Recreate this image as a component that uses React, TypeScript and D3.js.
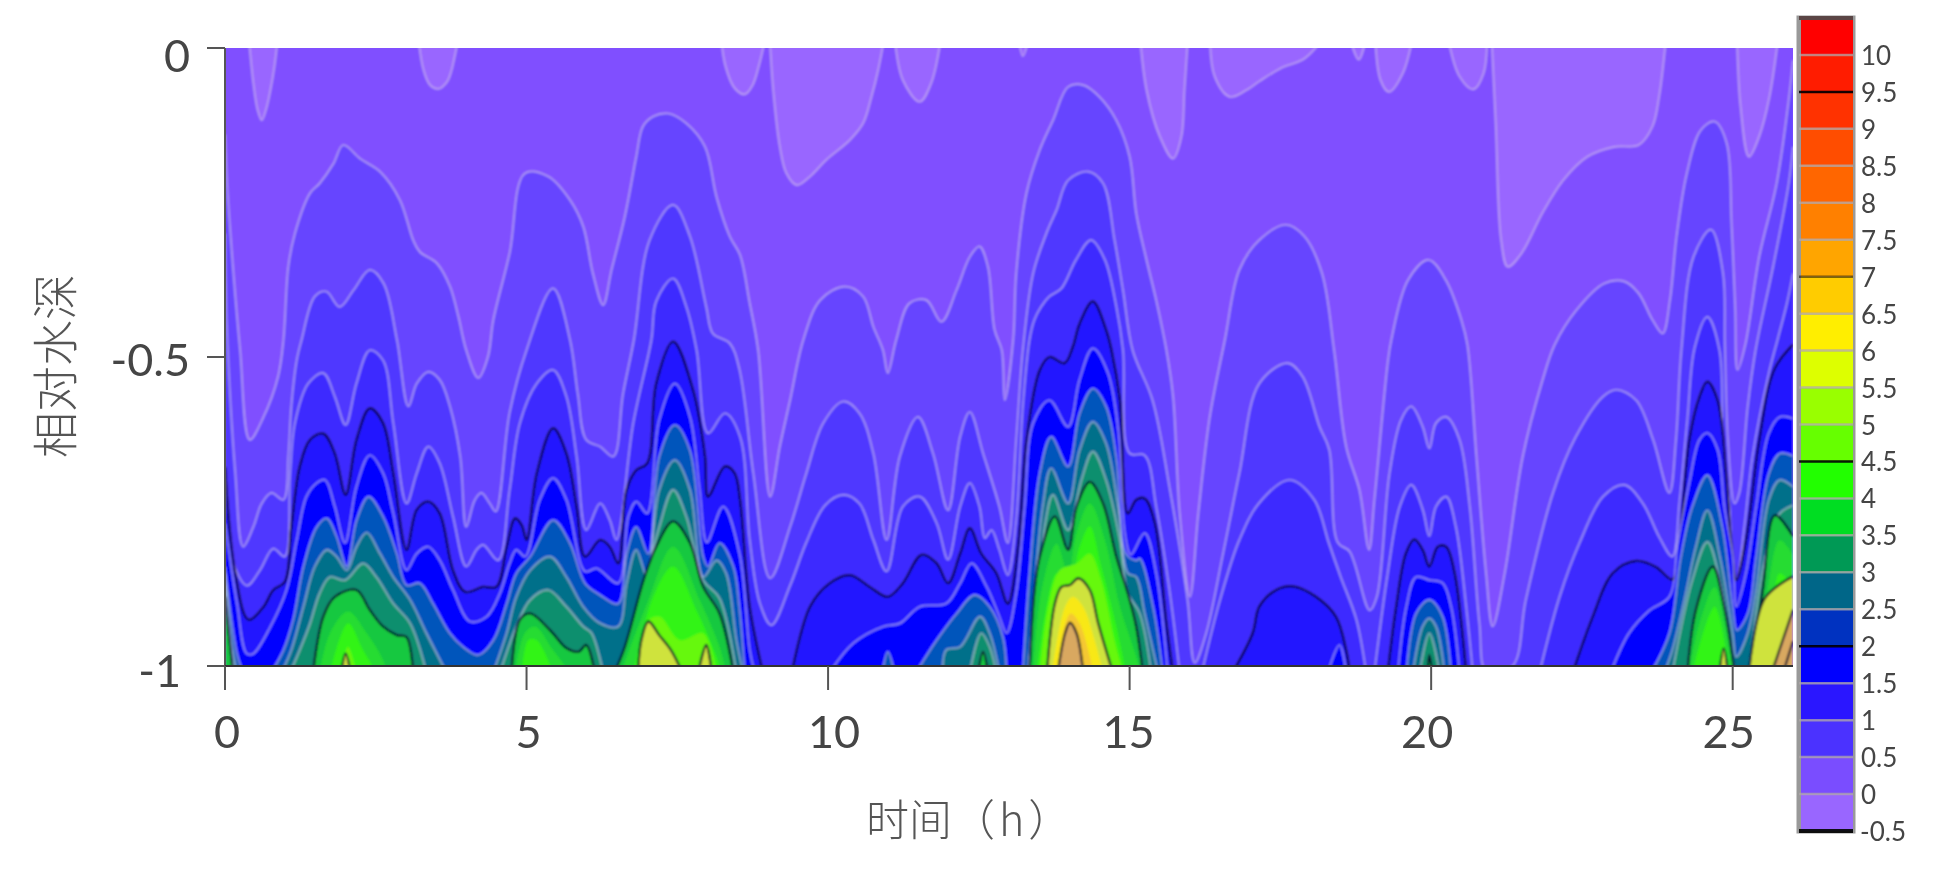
import { scaleLinear, area, line, curveCatmullRom } from "d3";

type Pt = [number, number];

const WIDTH = 1946;
const HEIGHT = 869;

const xTicks = [0, 5, 10, 15, 20, 25];
const yTicks = [0, -0.5, -1];
const legendLevels = [-0.5, 0, 0.5, 1, 1.5, 2, 2.5, 3, 3.5, 4, 4.5, 5, 5.5, 6, 6.5, 7, 7.5, 8, 8.5, 9, 9.5, 10];
const legendDark = [-0.5, 2, 4.5, 7, 9.5];
const legendColors = [
  "#9966ff", "#7a4dff", "#4c33ff", "#2a14ff", "#0000ff", "#0033c0", "#006688", "#009955",
  "#00dd22", "#22ff00", "#66ff00", "#99ff00", "#ddff00", "#ffee00", "#ffcc00", "#ffa500",
  "#ff8000", "#ff6600", "#ff4d00", "#ff3300", "#ff1a00", "#ff0000",
];

// pale tongues hanging from the surface [hour, depth]
const tongues: Pt[][] = [
  [[0.39, 0.02], [0.47, -0.057], [0.54, -0.1], [0.61, -0.117], [0.68, -0.1], [0.75, -0.07], [0.82, -0.03], [0.88, 0.02]],
  [[3.2, 0.02], [3.29, -0.035], [3.4, -0.06], [3.54, -0.066], [3.68, -0.055], [3.76, -0.035], [3.88, 0.02]],
  [[8.22, 0.02], [8.3, -0.03], [8.45, -0.065], [8.62, -0.075], [8.75, -0.06], [8.85, -0.03], [8.97, 0.02]],
  [[9.03, 0.02], [9.09, -0.068], [9.2, -0.16], [9.31, -0.203], [9.48, -0.222], [9.7, -0.208], [9.97, -0.181], [10.36, -0.149], [10.58, -0.122], [10.72, -0.079], [10.83, -0.036], [10.94, 0.02]],
  [[11.1, 0.02], [11.24, -0.052], [11.52, -0.087], [11.71, -0.057], [11.88, 0.02]],
  [[13.15, 0.02], [13.23, -0.013], [13.34, 0.02]],
  [[15.17, 0.02], [15.28, -0.068], [15.5, -0.143], [15.72, -0.179], [15.86, -0.143], [15.91, -0.068], [15.97, 0.02]],
  [[16.33, 0.02], [16.41, -0.046], [16.66, -0.079], [16.94, -0.068], [17.15, -0.054], [17.5, -0.033], [17.9, -0.017], [18.25, 0.02]],
  [[18.64, 0.02], [18.8, -0.019], [18.93, 0.02]],
  [[19.07, 0.02], [19.16, -0.052], [19.3, -0.071], [19.53, -0.041], [19.7, 0.02]],
  [[20.27, 0.02], [20.47, -0.046], [20.7, -0.067], [20.87, -0.041], [20.93, 0.02]],
  [[21.0, 0.02], [21.07, -0.122], [21.16, -0.311], [21.27, -0.354], [21.5, -0.332], [21.84, -0.268], [22.19, -0.214], [22.59, -0.176], [23.04, -0.16], [23.44, -0.157], [23.67, -0.127], [23.78, -0.079], [23.9, 0.02]],
  [[25.07, 0.02], [25.13, -0.095], [25.27, -0.176], [25.44, -0.143], [25.61, -0.079], [25.76, 0.02]],
];

const contour1: Pt[][] = [[
  [0, -0.14], [0.04, -0.23], [0.14, -0.365], [0.25, -0.489], [0.41, -0.634], [0.64, -0.597], [0.88, -0.532], [0.97, -0.4725], [1.05, -0.354], [1.16, -0.3], [1.41, -0.235], [1.57, -0.219], [1.8, -0.187], [1.96, -0.157], [2.24, -0.179], [2.57, -0.2], [2.9, -0.246], [3.12, -0.311], [3.23, -0.33], [3.51, -0.348], [3.73, -0.386], [3.87, -0.435], [4.0, -0.489], [4.2, -0.534], [4.36, -0.5], [4.45, -0.44], [4.72, -0.332], [4.97, -0.203], [5.36, -0.208], [5.72, -0.246], [5.94, -0.289], [6.1, -0.365], [6.27, -0.416], [6.41, -0.359], [6.63, -0.273], [6.82, -0.176], [6.93, -0.127], [7.1, -0.111], [7.35, -0.106], [7.65, -0.122], [7.96, -0.16], [8.15, -0.241], [8.37, -0.305], [8.54, -0.335], [8.7, -0.413], [8.84, -0.489], [9.04, -0.726], [9.2, -0.645], [9.37, -0.57], [9.59, -0.4725], [9.87, -0.408], [10.28, -0.386], [10.58, -0.402], [10.75, -0.451], [10.91, -0.489], [10.99, -0.526], [11.13, -0.4725], [11.35, -0.413], [11.63, -0.408], [11.88, -0.443], [12.13, -0.392], [12.35, -0.338], [12.51, -0.321], [12.65, -0.354], [12.76, -0.456], [12.88, -0.489], [12.93, -0.57], [13.07, -0.4725], [13.12, -0.365], [13.29, -0.235], [13.51, -0.165], [13.73, -0.117], [13.98, -0.063], [14.23, -0.06], [14.5, -0.079], [14.78, -0.117], [15.0, -0.176], [15.11, -0.268], [15.28, -0.343], [15.44, -0.408], [15.61, -0.489], [15.72, -0.564], [15.83, -0.753], [16.0, -0.888], [16.14, -0.753], [16.33, -0.597], [16.58, -0.4725], [16.82, -0.359], [17.15, -0.311], [17.59, -0.286], [17.9, -0.305], [18.19, -0.365], [18.39, -0.489], [18.59, -0.645], [18.81, -0.715], [18.97, -0.812], [19.06, -0.731], [19.28, -0.51], [19.34, -0.4725], [19.62, -0.375], [19.96, -0.343], [20.24, -0.375], [20.5, -0.44], [20.6, -0.48], [20.75, -0.661], [20.91, -0.85], [21.02, -0.936], [21.22, -0.85], [21.52, -0.661], [21.85, -0.537], [22.05, -0.48], [22.41, -0.424], [22.87, -0.381], [23.21, -0.378], [23.44, -0.397], [23.67, -0.44], [23.84, -0.462], [23.96, -0.408], [24.07, -0.305], [24.24, -0.203], [24.47, -0.133], [24.7, -0.119], [24.9, -0.154], [24.98, -0.284], [25.04, -0.419], [25.08, -0.521], [25.21, -0.48], [25.44, -0.338], [25.73, -0.219], [25.93, -0.084], [26, -0.02],
]];

const contour2: Pt[][] = [[
  [0, -0.3], [0.03, -0.45], [0.17, -0.688], [0.3, -0.807], [0.47, -0.775], [0.61, -0.737], [0.77, -0.72], [0.97, -0.731], [1.05, -0.661], [1.1, -0.58], [1.19, -0.505], [1.27, -0.4725], [1.49, -0.402], [1.68, -0.394], [1.9, -0.419], [2.13, -0.392], [2.4, -0.359], [2.63, -0.381], [2.85, -0.472], [3.04, -0.58], [3.18, -0.543], [3.37, -0.524], [3.56, -0.537], [3.73, -0.58], [3.9, -0.661], [4.0, -0.775], [4.14, -0.732], [4.25, -0.72], [4.39, -0.737], [4.49, -0.75], [4.72, -0.59], [5.0, -0.489], [5.44, -0.389], [5.72, -0.472], [5.85, -0.56], [5.99, -0.634], [6.22, -0.645], [6.44, -0.661], [6.6, -0.56], [6.78, -0.4725], [7.04, -0.311], [7.43, -0.254], [7.71, -0.305], [7.98, -0.419], [8.09, -0.462], [8.37, -0.478], [8.53, -0.52], [8.76, -0.688], [9.04, -0.858], [9.37, -0.775], [9.64, -0.688], [9.92, -0.607], [10.25, -0.572], [10.52, -0.591], [10.75, -0.656], [10.97, -0.796], [11.19, -0.661], [11.49, -0.597], [11.74, -0.656], [11.99, -0.748], [12.19, -0.629], [12.35, -0.589], [12.57, -0.656], [12.84, -0.742], [12.98, -0.801], [13.12, -0.634], [13.23, -0.489], [13.4, -0.365], [13.62, -0.3], [13.79, -0.262], [13.98, -0.214], [14.31, -0.2], [14.56, -0.219], [14.75, -0.311], [14.89, -0.392], [15.05, -0.489], [15.38, -0.57], [15.66, -0.71], [15.96, -0.893], [16.08, -0.995], [16.27, -0.947], [16.54, -0.823], [16.82, -0.688], [17.15, -0.543], [17.62, -0.51], [17.87, -0.532], [18.15, -0.613], [18.31, -0.65], [18.45, -0.8], [18.65, -0.815], [18.98, -0.91], [19.1, -0.888], [19.31, -0.688], [19.5, -0.602], [19.67, -0.58], [19.86, -0.613], [19.97, -0.648], [20.08, -0.607], [20.25, -0.597], [20.47, -0.634], [20.64, -0.742], [20.8, -0.931], [20.92, -1.01], [21.35, -1.0], [21.57, -0.893], [22.02, -0.72], [22.4, -0.629], [22.85, -0.564], [23.07, -0.553], [23.4, -0.57], [23.68, -0.634], [23.95, -0.72], [24.06, -0.634], [24.15, -0.489], [24.35, -0.338], [24.64, -0.294], [24.84, -0.365], [24.87, -0.48], [24.92, -0.634], [25.03, -0.737], [25.11, -0.72], [25.25, -0.58], [25.38, -0.489], [25.67, -0.354], [25.93, -0.219], [26, -0.16],
]];

const contour3: Pt[][] = [
  [[0, -0.68], [0.06, -0.807], [0.36, -0.87], [0.58, -0.845], [0.8, -0.81], [0.99, -0.823], [1.08, -0.688], [1.16, -0.607], [1.38, -0.543], [1.63, -0.526], [1.82, -0.564], [2.0, -0.61], [2.18, -0.543], [2.4, -0.489], [2.62, -0.505], [2.79, -0.607], [3.01, -0.737], [3.18, -0.688], [3.37, -0.645], [3.56, -0.672], [3.78, -0.758], [4.0, -0.839], [4.17, -0.812], [4.28, -0.804], [4.53, -0.829], [4.72, -0.715], [4.89, -0.607], [5.17, -0.543], [5.44, -0.521], [5.66, -0.564], [5.83, -0.661], [5.99, -0.78], [6.22, -0.737], [6.38, -0.764], [6.49, -0.796], [6.77, -0.607], [7.07, -0.4725], [7.15, -0.41], [7.43, -0.373], [7.65, -0.419], [7.82, -0.489], [8.01, -0.6235], [8.29, -0.591], [8.54, -0.629], [8.7, -0.796], [8.87, -0.899], [9.06, -0.934], [9.37, -0.87], [9.64, -0.8], [9.95, -0.74], [10.25, -0.723], [10.52, -0.737], [10.75, -0.796], [10.97, -0.847], [11.24, -0.742], [11.52, -0.726], [11.8, -0.769], [11.99, -0.828], [12.19, -0.742], [12.35, -0.704], [12.51, -0.742], [12.6, -0.793], [12.71, -0.78], [12.84, -0.812], [12.98, -0.853], [13.12, -0.764], [13.23, -0.58], [13.34, -0.4725], [13.42, -0.44], [13.53, -0.419], [13.67, -0.402], [13.87, -0.389], [14.11, -0.343], [14.36, -0.311], [14.59, -0.343], [14.78, -0.419], [14.89, -0.489], [15.0, -0.656], [15.25, -0.659], [15.44, -0.742], [15.66, -0.877], [15.83, -1.01]],
  [[16.2, -1.01], [16.5, -0.893], [16.82, -0.796], [17.15, -0.736], [17.65, -0.699], [18.06, -0.731], [18.3, -0.8], [18.5, -0.856], [18.76, -0.925], [18.92, -1.01]],
  [[19.06, -1.01], [19.28, -0.85], [19.48, -0.742], [19.67, -0.707], [19.86, -0.747], [19.97, -0.79], [20.08, -0.742], [20.25, -0.726], [20.41, -0.775], [20.58, -0.904], [20.69, -1.01]],
  [[21.8, -1.01], [22.13, -0.888], [22.46, -0.801], [22.85, -0.726], [23.2, -0.707], [23.51, -0.737], [23.78, -0.791], [24.0, -0.823], [24.12, -0.733], [24.25, -0.6], [24.37, -0.485], [24.58, -0.435], [24.78, -0.489], [24.84, -0.634], [24.95, -0.742], [25.03, -0.89], [25.2, -0.77], [25.33, -0.661], [25.6, -0.526], [25.75, -0.47], [25.9, -0.413], [26, -0.365]],
];

const contour4: Pt[][] = [
  [[0, -0.678], [0.17, -0.85], [0.39, -0.925], [0.64, -0.904], [0.8, -0.877], [0.99, -0.864], [1.1, -0.775], [1.24, -0.677], [1.41, -0.634], [1.63, -0.624], [1.82, -0.656], [2.0, -0.723], [2.18, -0.634], [2.4, -0.583], [2.62, -0.607], [2.79, -0.688], [3.01, -0.812], [3.18, -0.747], [3.37, -0.734], [3.56, -0.753], [3.78, -0.845], [3.98, -0.88], [4.28, -0.872], [4.5, -0.872], [4.67, -0.807], [4.81, -0.761], [4.92, -0.772], [5.0, -0.796], [5.17, -0.688], [5.44, -0.615], [5.66, -0.656], [5.83, -0.742], [5.97, -0.823], [6.22, -0.796], [6.38, -0.807], [6.52, -0.834], [6.66, -0.715], [6.82, -0.683], [7.0, -0.672], [7.15, -0.543], [7.43, -0.475], [7.76, -0.553], [7.96, -0.661], [8.01, -0.726], [8.29, -0.677], [8.45, -0.688], [8.54, -0.731], [8.7, -0.904], [8.92, -1.01]],
  [[9.4, -1.01], [9.7, -0.904], [10.03, -0.866], [10.36, -0.853], [10.69, -0.872], [10.99, -0.888], [11.24, -0.866], [11.55, -0.82], [11.8, -0.834], [11.99, -0.866], [12.19, -0.818], [12.35, -0.777], [12.54, -0.818], [12.79, -0.85], [12.98, -0.899], [13.15, -0.807], [13.29, -0.634], [13.51, -0.521], [13.67, -0.5], [13.92, -0.51], [14.06, -0.483], [14.17, -0.446], [14.39, -0.41], [14.61, -0.456], [14.7, -0.489], [14.84, -0.57], [14.97, -0.753], [15.11, -0.731], [15.25, -0.729], [15.42, -0.769], [15.61, -0.931], [15.72, -1.01]],
  [[16.71, -1.01], [17.04, -0.947], [17.15, -0.904], [17.43, -0.877], [17.71, -0.871], [18.09, -0.888], [18.42, -0.92], [18.59, -0.974], [18.65, -1.01]],
  [[19.28, -1.01], [19.42, -0.904], [19.58, -0.818], [19.72, -0.795], [19.86, -0.812], [19.97, -0.839], [20.11, -0.807], [20.25, -0.807], [20.39, -0.85], [20.53, -0.958], [20.58, -1.01]],
  [[22.35, -1.01], [22.68, -0.92], [23.01, -0.85], [23.4, -0.83], [23.73, -0.84], [24.0, -0.86], [24.12, -0.796], [24.28, -0.634], [24.45, -0.564], [24.58, -0.54], [24.75, -0.57], [24.89, -0.688], [24.97, -0.796], [25.06, -0.861], [25.22, -0.796], [25.44, -0.634], [25.69, -0.52], [26, -0.48]],
];

const contour5: Pt[][] = [
  [[0, -0.77], [0.2, -0.9], [0.36, -0.98], [0.47, -0.98], [0.75, -0.937], [1.02, -0.877], [1.19, -0.796], [1.35, -0.726], [1.52, -0.704], [1.66, -0.699], [1.82, -0.742], [1.99, -0.801], [2.18, -0.71], [2.4, -0.659], [2.62, -0.688], [2.79, -0.753], [3.01, -0.845], [3.18, -0.818], [3.37, -0.807], [3.56, -0.829], [3.78, -0.877], [4.06, -0.928], [4.34, -0.92], [4.56, -0.882], [4.72, -0.834], [4.83, -0.812], [4.98, -0.823], [5.22, -0.731], [5.44, -0.696], [5.66, -0.731], [5.97, -0.847], [6.16, -0.842], [6.52, -0.866], [6.69, -0.758], [6.82, -0.734], [7.0, -0.753], [7.2, -0.602], [7.46, -0.543], [7.71, -0.597], [7.87, -0.715], [7.99, -0.8], [8.26, -0.742], [8.53, -0.818], [8.7, -0.974], [8.78, -1.01]],
  [[10.03, -1.01], [10.42, -0.963], [10.92, -0.936], [11.19, -0.931], [11.52, -0.904], [11.96, -0.899], [12.19, -0.866], [12.38, -0.834], [12.63, -0.872], [12.82, -0.915], [12.96, -0.947], [13.12, -0.882], [13.26, -0.742], [13.4, -0.607], [13.67, -0.57], [13.98, -0.613], [14.17, -0.537], [14.39, -0.486], [14.64, -0.526], [14.81, -0.618], [14.92, -0.785], [15.02, -0.82], [15.25, -0.785], [15.44, -0.85], [15.63, -1.01]],
  [[18.29, -1.01], [18.48, -0.966], [18.59, -1.01]],
  [[19.45, -1.01], [19.59, -0.904], [19.75, -0.856], [19.97, -0.861], [20.19, -0.866], [20.33, -0.904], [20.47, -1.01]],
  [[22.98, -1.01], [23.28, -0.947], [23.62, -0.91], [23.95, -0.888], [24.09, -0.801], [24.28, -0.704], [24.45, -0.634], [24.58, -0.623], [24.75, -0.65], [24.86, -0.742], [25.0, -0.823], [25.06, -0.904], [25.22, -0.85], [25.39, -0.742], [25.6, -0.623], [25.78, -0.597], [26, -0.6]],
];

const contour6: Pt[][] = [
  [[0, -0.84], [0.2, -0.98], [0.3, -1.01]],
  [[0.77, -1.01], [0.97, -0.974], [1.13, -0.925], [1.3, -0.839], [1.52, -0.775], [1.69, -0.761], [1.85, -0.79], [2.02, -0.839], [2.18, -0.764], [2.38, -0.726], [2.62, -0.758], [2.85, -0.818], [3.01, -0.869], [3.23, -0.866], [3.45, -0.899], [3.73, -0.947], [3.95, -0.969], [4.2, -0.982], [4.45, -0.958], [4.67, -0.899], [4.83, -0.85], [5.06, -0.823], [5.44, -0.764], [5.72, -0.801], [5.97, -0.866], [6.22, -0.885], [6.52, -0.899], [6.66, -0.818], [6.82, -0.775], [7.02, -0.818], [7.2, -0.661], [7.46, -0.61], [7.71, -0.651], [7.93, -0.823], [8.01, -0.839], [8.2, -0.801], [8.43, -0.839], [8.53, -0.904], [8.62, -1.01]],
  [[10.9, -1.01], [10.99, -0.977], [11.1, -1.01]],
  [[11.46, -1.01], [11.8, -0.958], [12.13, -0.915], [12.43, -0.885], [12.68, -0.904], [12.9, -0.953], [12.96, -1.01]],
  [[13.23, -1.01], [13.34, -0.85], [13.51, -0.688], [13.7, -0.629], [13.98, -0.677], [14.17, -0.591], [14.39, -0.551], [14.61, -0.58], [14.78, -0.661], [14.94, -0.818], [15.11, -0.829], [15.17, -0.826], [15.39, -0.904], [15.55, -1.01]],
  [[19.59, -1.01], [19.75, -0.915], [19.97, -0.893], [20.19, -0.92], [20.33, -1.01]],
  [[23.65, -1.01], [23.95, -0.947], [24.14, -0.823], [24.33, -0.742], [24.58, -0.691], [24.83, -0.775], [25.0, -0.904], [25.07, -0.942], [25.25, -0.915], [25.39, -0.823], [25.6, -0.688], [25.78, -0.656], [26, -0.66]],
];

const contour7: Pt[][] = [
  [[0, -0.85], [0.12, -0.97], [0.2, -1.01]],
  [[0.94, -1.01], [1.1, -0.974], [1.3, -0.904], [1.49, -0.839], [1.69, -0.812], [1.85, -0.823], [2.02, -0.845], [2.18, -0.807], [2.35, -0.784], [2.57, -0.818], [2.79, -0.856], [3.07, -0.893], [3.34, -0.947], [3.67, -1.01]],
  [[4.45, -1.01], [4.67, -0.947], [4.83, -0.888], [5.06, -0.845], [5.39, -0.823], [5.66, -0.856], [5.94, -0.904], [6.22, -0.931], [6.52, -0.936], [6.66, -0.866], [6.82, -0.812], [7.0, -0.856], [7.2, -0.715], [7.46, -0.667], [7.71, -0.715], [7.93, -0.856], [8.15, -0.829], [8.31, -0.85], [8.48, -0.958], [8.59, -1.01]],
  [[11.9, -1.01], [11.96, -0.974], [12.19, -0.969], [12.52, -0.92], [12.68, -0.947], [12.84, -1.01]],
  [[13.31, -1.01], [13.4, -0.904], [13.56, -0.742], [13.7, -0.68], [13.98, -0.737], [14.17, -0.651], [14.39, -0.605], [14.61, -0.64], [14.81, -0.742], [14.97, -0.85], [15.11, -0.856], [15.25, -0.915], [15.47, -1.01]],
  [[19.7, -1.01], [19.86, -0.936], [19.97, -0.923], [20.08, -0.936], [20.22, -1.01]],
  [[23.87, -1.01], [24.0, -0.974], [24.2, -0.893], [24.39, -0.807], [24.58, -0.748], [24.8, -0.829], [25.0, -0.947], [25.06, -0.985], [25.25, -0.947], [25.39, -0.877], [25.6, -0.731], [25.78, -0.699], [26, -0.71]],
];

const contour8: Pt[][] = [
  [[0, -0.87], [0.08, -0.96], [0.16, -1.01]],
  [[1.08, -1.01], [1.24, -0.974], [1.41, -0.931], [1.57, -0.882], [1.74, -0.856], [1.99, -0.861], [2.29, -0.834], [2.51, -0.856], [2.79, -0.899], [3.07, -0.931], [3.34, -1.01]],
  [[4.56, -1.01], [4.83, -0.936], [5.06, -0.893], [5.36, -0.877], [5.66, -0.904], [5.94, -0.936], [6.08, -0.947], [6.27, -1.01]],
  [[6.52, -1.01], [6.72, -0.947], [7.0, -0.85], [7.2, -0.775], [7.43, -0.715], [7.65, -0.758], [7.93, -0.861], [8.2, -0.89], [8.48, -1.01]],
  [[12.35, -1.01], [12.54, -0.947], [12.68, -0.969], [12.79, -1.01]],
  [[13.4, -1.01], [13.46, -0.931], [13.6, -0.769], [13.73, -0.723], [13.98, -0.78], [14.2, -0.699], [14.39, -0.653], [14.61, -0.699], [14.84, -0.796], [14.97, -0.882], [15.17, -0.915], [15.36, -1.01]],
  [[19.81, -1.01], [19.97, -0.947], [20.14, -1.01]],
  [[24.0, -1.01], [24.33, -0.861], [24.58, -0.799], [24.8, -0.866], [25.03, -1.01]],
  [[25.27, -1.01], [25.44, -0.877], [25.6, -0.796], [25.78, -0.753], [26, -0.74]],
];

const contour9: Pt[][] = [
  [[0, -0.888], [0.13, -1.01]],
  [[1.46, -1.01], [1.63, -0.92], [1.82, -0.888], [2.18, -0.877], [2.4, -0.909], [2.62, -0.936], [2.85, -0.95], [3.01, -0.953], [3.12, -1.01]],
  [[4.75, -1.01], [4.89, -0.925], [5.06, -0.915], [5.39, -0.942], [5.66, -0.971], [5.86, -0.977], [5.99, -0.966], [6.13, -1.01]],
  [[6.46, -1.01], [6.63, -0.969], [6.94, -0.861], [7.15, -0.807], [7.43, -0.766], [7.71, -0.801], [7.93, -0.872], [8.2, -0.915], [8.43, -1.01]],
  [[12.49, -1.01], [12.57, -0.977], [12.65, -1.01]],
  [[13.34, -1.01], [13.42, -0.88], [13.51, -0.823], [13.76, -0.758], [13.98, -0.812], [14.12, -0.742], [14.34, -0.702], [14.56, -0.737], [14.78, -0.823], [14.97, -0.882], [15.11, -0.936], [15.22, -1.01]],
  [[19.94, -1.01], [19.97, -0.982], [20.02, -1.01]],
  [[24.25, -1.01], [24.39, -0.909], [24.67, -0.839], [24.86, -0.904], [25.03, -1.01]],
  [[25.33, -1.01], [25.5, -0.877], [25.7, -0.756], [26, -0.79]],
];

const contour10: Pt[][] = [
  [[1.57, -1.01], [1.74, -0.947], [2.04, -0.912], [2.35, -0.947], [2.62, -0.99], [2.68, -1.01]],
  [[4.81, -1.01], [4.97, -0.947], [5.14, -0.936], [5.44, -0.974], [5.72, -1.01]],
  [[6.57, -1.01], [7.0, -0.899], [7.43, -0.807], [7.87, -0.893], [8.2, -0.969], [8.31, -1.01]],
  [[13.4, -1.01], [13.54, -0.877], [13.79, -0.802], [13.98, -0.85], [14.12, -0.785], [14.34, -0.737], [14.59, -0.796], [14.84, -0.904], [15.11, -0.985], [15.17, -1.01]],
  [[24.28, -1.01], [24.45, -0.931], [24.7, -0.872], [24.86, -0.931], [25.0, -1.01]],
  [[25.42, -1.01], [25.58, -0.877], [25.78, -0.796], [26, -0.82]],
];

const contour11: Pt[][] = [
  [[1.74, -1.01], [2.04, -0.931], [2.29, -0.974], [2.51, -1.01]],
  [[4.92, -1.01], [5.03, -0.958], [5.17, -0.958], [5.44, -1.01]],
  [[6.77, -1.01], [7.1, -0.888], [7.43, -0.839], [7.82, -0.91], [8.15, -0.985], [8.23, -1.01]],
  [[13.46, -1.01], [13.6, -0.915], [13.79, -0.85], [13.98, -0.883], [14.17, -0.807], [14.34, -0.774], [14.53, -0.839], [14.78, -0.936], [14.94, -1.01]],
  [[24.33, -1.01], [24.7, -0.904], [24.94, -1.01]],
  [[25.5, -1.01], [25.66, -0.904], [25.78, -0.85], [26, -0.87]],
];

const contour12: Pt[][] = [
  [[1.93, -1.01], [2.04, -0.969], [2.18, -1.01]],
  [[6.82, -1.01], [7.02, -0.926], [7.21, -0.92], [7.54, -0.958], [7.93, -0.947], [8.15, -1.01]],
  [[13.51, -1.01], [13.65, -0.904], [13.84, -0.845], [14.12, -0.834], [14.34, -0.818], [14.53, -0.861], [14.75, -0.958], [14.89, -1.01]],
  [[25.58, -1.01], [25.78, -0.904], [26, -0.9]],
];

const contour13: Pt[][] = [
  [[1.93, -1.01], [2.0, -0.98], [2.08, -1.01]],
  [[6.85, -1.01], [6.9, -0.96], [7.02, -0.928], [7.2, -0.95], [7.4, -0.975], [7.58, -1.01]],
  [[7.85, -1.01], [7.98, -0.966], [8.07, -1.01]],
  [[13.63, -1.01], [13.76, -0.899], [13.87, -0.872], [14.01, -0.869], [14.15, -0.858], [14.34, -0.877], [14.48, -0.931], [14.72, -1.01]],
  [[24.78, -1.01], [24.85, -0.972], [24.92, -1.01]],
  [[25.27, -1.01], [25.53, -0.891], [26, -0.855]],
];

const contour14: Pt[][] = [
  [[13.71, -1.01], [13.93, -0.904], [14.06, -0.888], [14.23, -0.904], [14.42, -0.958], [14.56, -1.01]],
];

const contour15: Pt[][] = [
  [[13.79, -1.01], [13.95, -0.926], [14.03, -0.915], [14.17, -0.931], [14.34, -0.985], [14.39, -1.01]],
];

const contour16: Pt[][] = [
  [[13.81, -1.01], [13.93, -0.947], [14.01, -0.93], [14.12, -0.947], [14.23, -1.01]],
  [[25.65, -1.01], [26, -0.909]],
  [[25.84, -1.01], [26, -0.96]],
];

const contours = [
  contour1, contour2, contour3, contour4, contour5, contour6, contour7, contour8,
  contour9, contour10, contour11, contour12, contour13, contour14, contour15, contour16,
];
const bandFills = [
  "#6644ff", "#5038ff", "#3d2bff", "#2016ff", "#0000ff", "#0055bb", "#00708a", "#0f8f6e",
  "#14c840", "#28dc30", "#30f418", "#66f810", "#cfe33c", "#f8e818", "#f4c830", "#d9a860",
];
// which contours are drawn black
const darkContours = [3, 8, 12, 15];
const noLine = [9, 10, 11, 13, 14];

const X0 = 225;
const X1 = 1793;
const Y0 = 48;
const Y1 = 666;

export default function App() {
  const x = scaleLinear().domain([0, 26]).range([X0, X1]);
  const y = scaleLinear().domain([0, -1]).range([Y0, Y1]);
  const legendY = scaleLinear().domain([-0.5, 10.5]).range([831, 18]);

  const smooth = curveCatmullRom.alpha(0.5);
  const bottomArea = area<Pt>()
    .x((d) => x(d[0]))
    .y0(y(-1.05))
    .y1((d) => y(d[1]))
    .curve(smooth);
  const topArea = area<Pt>()
    .x((d) => x(d[0]))
    .y0(y(0.05))
    .y1((d) => y(d[1]))
    .curve(smooth);
  const contourLine = line<Pt>()
    .x((d) => x(d[0]))
    .y((d) => y(d[1]))
    .curve(smooth);

  const tickFont = "Lato, 'Open Sans', sans-serif";
  const cjkFont = "'Noto Sans CJK SC', sans-serif";

  return (
    <svg
      width={WIDTH}
      height={HEIGHT}
      style={{ position: "absolute", left: 0, top: 0, background: "#fff" }}
    >
      <defs>
        <clipPath id="plotClip">
          <rect x={X0} y={Y0} width={X1 - X0} height={Y1 - Y0} />
        </clipPath>
        <filter id="soft" x="-2%" y="-2%" width="104%" height="104%">
          <feGaussianBlur stdDeviation="0.8" />
        </filter>
        <filter id="softText" x="-10%" y="-10%" width="120%" height="120%">
          <feGaussianBlur stdDeviation="0.5" />
        </filter>
      </defs>

      {/* contour field */}
      <g clipPath="url(#plotClip)">
        <g filter="url(#soft)">
          <rect x={X0 - 4} y={Y0 - 4} width={X1 - X0 + 8} height={Y1 - Y0 + 8} fill="#8050ff" />
          {tongues.map((t, i) => (
            <path key={i} d={topArea(t) ?? ""} fill="#9966ff" />
          ))}
          {tongues.map((t, i) => (
            <path key={i} d={contourLine(t) ?? ""} fill="none" stroke="#d8c8e8" strokeOpacity={0.6} strokeWidth={1.7} />
          ))}
          {contours.map((segments, level) => (
            <g key={level}>
              {segments.map((s, i) => (
                <path key={i} d={bottomArea(s) ?? ""} fill={bandFills[level]} />
              ))}
              {!noLine.includes(level) &&
                segments.map((s, i) => (
                  <path
                    key={i}
                    d={contourLine(s) ?? ""}
                    fill="none"
                    stroke={darkContours.includes(level) ? "#05052a" : "#d8d0e8"}
                    strokeOpacity={darkContours.includes(level) ? 0.9 : 0.6}
                    strokeWidth={darkContours.includes(level) ? 2.3 : 1.7}
                  />
                ))}
            </g>
          ))}
        </g>
      </g>

      {/* axes */}
      <g stroke="#555" strokeWidth={2}>
        <line x1={X0} x2={X0} y1={Y0} y2={690} />
        <line x1={207} x2={X1} y1={Y1} y2={Y1} stroke="#333" />
        {yTicks.map((v) => (
          <line key={v} x1={207} x2={X0} y1={y(v)} y2={y(v)} />
        ))}
        {xTicks.map((v) => (
          <line key={v} x1={x(v)} x2={x(v)} y1={Y1} y2={690} />
        ))}
      </g>
      <g fontFamily={tickFont} fontSize={45} fill="#444" filter="url(#softText)">
        {xTicks.map((v) => (
          <text key={v} x={x(v) + (v < 10 ? 2 : v === 10 ? 6 : v === 15 ? -1 : -4)} y={748} textAnchor="middle">
            {v}
          </text>
        ))}
        {yTicks.map((v) => (
          <text key={v} x={v === -1 ? 181 : 190} y={y(v) + (v === 0 ? 24 : v === -1 ? 21 : 19)} textAnchor="end">
            {v}
          </text>
        ))}
      </g>
      <g fontFamily={cjkFont} fontWeight={300} fill="#555" filter="url(#softText)">
        <text transform="translate(72,366) rotate(-90)" textAnchor="middle" fontSize={46}>
          相对水深
        </text>
        <text x={866} y={836} fontSize={43}>
          时间<tspan letterSpacing={4}>（h）</tspan>
        </text>
      </g>

      {/* colour legend */}
      <g filter="url(#softText)">
        <rect x={1799} y={legendY(10.5)} width={54} height={legendY(-0.5) - legendY(10.5)} fill="none" stroke="#999" strokeWidth={5} />
        {legendColors.map((c, i) => (
          <rect
            key={i}
            x={1801}
            y={legendY(legendLevels[i] + 0.5)}
            width={52}
            height={legendY(legendLevels[i]) - legendY(legendLevels[i] + 0.5)}
            fill={c}
          />
        ))}
        {legendLevels.map((v) => (
          <line
            key={v}
            x1={1799}
            x2={1853}
            y1={legendY(v)}
            y2={legendY(v)}
            stroke={legendDark.includes(v) ? "#000" : "#b0a8a8"}
            strokeOpacity={legendDark.includes(v) ? (v === 7 ? 0.5 : 0.9) : 0.75}
            strokeWidth={v === -0.5 ? 4 : 2.5}
          />
        ))}
        <line x1={1799} x2={1853} y1={legendY(10.5)} y2={legendY(10.5)} stroke="#5a4444" strokeWidth={4} />
      </g>
      <g fontFamily={tickFont} fontSize={26} fill="#444" filter="url(#softText)">
        {legendLevels.map((v) => (
          <text key={v} x={v === -0.5 ? 1860 : 1861} y={legendY(v) + 10}>
            {v}
          </text>
        ))}
      </g>
    </svg>
  );
}
